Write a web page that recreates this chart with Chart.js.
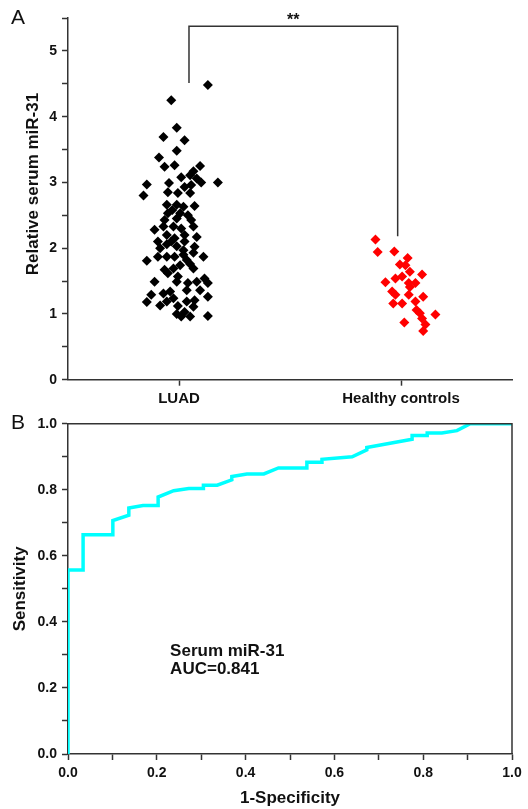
<!DOCTYPE html>
<html>
<head>
<meta charset="utf-8">
<script src="https://cdn.jsdelivr.net/npm/chart.js@4.4.1/dist/chart.umd.min.js"></script>
<style>
  body { margin: 0; background: #fff; }
  #wrapA { position: absolute; left: 0; top: 0; }
  #wrapB { position: absolute; left: 0; top: 405px; }
</style>
</head>
<body>
<div id="wrapA"><canvas id="chartA" width="528" height="410"></canvas></div>
<div id="wrapB"><canvas id="chartB" width="528" height="404"></canvas></div>
<script>
'use strict';

// ---- panel A : dot plot ----
var groups = ['LUAD', 'Healthy controls'];
var groupPos = [1, 3];
var yTitleA = 'Relative serum miR-31';

var luadX = [1.26, 0.93, 0.98, 0.86, 1.05, 0.98, 0.82, 0.87, 0.96, 1.19,
             1.13, 1.02, 1.10, 1.16, 1.35, 0.71, 0.91, 1.05, 1.11, 1.20,
             0.68, 0.90, 0.99, 1.10, 0.89, 0.98, 1.04, 1.14, 0.90, 1.01,
             1.08, 0.87, 0.98, 1.11, 0.78, 0.86, 0.95, 1.02, 1.13, 0.89,
             0.96, 1.05, 1.16, 0.81, 0.93, 1.05, 0.89, 0.98, 1.14, 0.71,
             0.81, 0.89, 0.96, 1.04, 1.13, 1.22, 1.07, 0.87, 0.95, 1.01,
             0.90, 1.13, 0.78, 0.99, 0.98, 1.08, 1.16, 1.23, 1.26, 1.07,
             0.75, 0.86, 0.92, 0.95, 0.89, 0.71, 0.83, 1.07, 1.14, 1.26,
             1.13, 0.98, 1.05, 1.02, 1.10, 1.26, 0.94, 1.04, 0.83, 1.10,
             1.19, 0.99];
var luadY = [4.48, 4.25, 3.83, 3.69, 3.64, 3.48, 3.38, 3.24, 3.26, 3.25,
             3.17, 3.08, 3.11, 3.06, 3.00, 2.97, 2.99, 2.93, 2.96, 3.00,
             2.80, 2.85, 2.84, 2.84, 2.66, 2.66, 2.63, 2.64, 2.53, 2.53,
             2.50, 2.43, 2.45, 2.43, 2.28, 2.33, 2.33, 2.30, 2.33, 2.20,
             2.15, 2.20, 2.17, 2.10, 2.10, 2.10, 2.06, 2.03, 2.02, 1.81,
             1.87, 1.87, 1.87, 1.90, 1.93, 1.87, 1.82, 1.67, 1.69, 1.74,
             1.62, 1.69, 1.49, 1.57, 1.49, 1.47, 1.49, 1.54, 1.47, 1.36,
             1.29, 1.31, 1.34, 1.24, 1.19, 1.18, 1.13, 1.19, 1.21, 1.26,
             1.11, 1.00, 1.03, 0.96, 0.96, 0.97, 2.58, 1.97, 2.00, 1.76,
             1.36, 1.12];

var ctrlX = [2.77, 2.79, 2.94, 3.06, 2.99, 3.04, 3.08, 3.19, 2.86, 2.95,
             3.01, 3.07, 3.13, 3.08, 2.92, 2.95, 3.07, 3.20, 2.93, 3.01,
             3.13, 3.14, 3.17, 3.31, 3.19, 3.03, 3.22, 3.20];
var ctrlY = [2.13, 1.94, 1.95, 1.85, 1.75, 1.74, 1.64, 1.60, 1.48, 1.54,
             1.57, 1.47, 1.47, 1.41, 1.34, 1.29, 1.29, 1.26, 1.16, 1.16,
             1.19, 1.06, 1.01, 0.99, 0.93, 0.87, 0.84, 0.74];

// significance bracket (x left/right, y left foot / top / right foot)
var bracketX = [1.09, 2.97];
var bracketY = [4.51, 5.375, 2.18];
var bracketLabel = '**';

// ---- panel B : ROC curve ----
var rocFpr = [0, 0, 0.034, 0.034, 0.101, 0.101, 0.137, 0.137, 0.169, 0.203,
              0.203, 0.238, 0.272, 0.305, 0.305, 0.336, 0.369, 0.369, 0.403, 0.441,
              0.474, 0.538, 0.538, 0.572, 0.572, 0.640, 0.673, 0.673, 0.775, 0.775,
              0.809, 0.809, 0.842, 0.876, 0.906, 1.0];
var rocTpr = [0, 0.557, 0.557, 0.664, 0.664, 0.707, 0.723, 0.745, 0.752, 0.752,
              0.778, 0.797, 0.804, 0.804, 0.814, 0.814, 0.830, 0.840, 0.848, 0.848,
              0.866, 0.866, 0.883, 0.883, 0.892, 0.900, 0.921, 0.928, 0.953, 0.964,
              0.964, 0.972, 0.972, 0.979, 1.0, 1.0];
var aucLines = ['Serum miR-31', 'AUC=0.841'];
var aucX = 0.23;
var aucY = [0.312, 0.255];

var FONT = 'Liberation Sans, Arial, Helvetica, sans-serif';
var AXIS = '#333';
Chart.defaults.font.family = FONT;
Chart.defaults.color = '#111';
Chart.defaults.animation = false;

function toPoints(xs, ys) {
  return xs.map(function (x, i) { return { x: x, y: ys[i] }; });
}

function panelLetter(letter) {
  return {
    id: 'letter' + letter,
    afterDraw: function (chart) {
      var ctx = chart.ctx;
      ctx.save();
      ctx.font = '21px ' + FONT;
      ctx.fillStyle = '#111';
      ctx.textAlign = 'center';
      ctx.textBaseline = 'middle';
      ctx.fillText(letter, 18, 18);
      ctx.restore();
    }
  };
}

var bracketPlugin = {
  id: 'bracket',
  afterDatasetsDraw: function (chart) {
    var xs = chart.scales.x, ys = chart.scales.y, ctx = chart.ctx;
    var x1 = xs.getPixelForValue(bracketX[0]), x2 = xs.getPixelForValue(bracketX[1]);
    var yTop = ys.getPixelForValue(bracketY[1]);
    ctx.save();
    ctx.strokeStyle = AXIS;
    ctx.lineWidth = 1.5;
    ctx.beginPath();
    ctx.moveTo(x1, ys.getPixelForValue(bracketY[0]));
    ctx.lineTo(x1, yTop);
    ctx.lineTo(x2, yTop);
    ctx.lineTo(x2, ys.getPixelForValue(bracketY[2]));
    ctx.stroke();
    ctx.font = 'bold 16px ' + FONT;
    ctx.fillStyle = '#111';
    ctx.textAlign = 'center';
    ctx.textBaseline = 'bottom';
    ctx.fillText(bracketLabel, (x1 + x2) / 2, yTop + 2);

    // y axis title, sits a bit above the middle of the axis as in the figure
    ctx.translate(33, 184);
    ctx.rotate(-Math.PI / 2);
    ctx.font = 'bold 17px ' + FONT;
    ctx.textAlign = 'center';
    ctx.textBaseline = 'middle';
    ctx.fillText(yTitleA, 0, 0);
    ctx.restore();
  }
};

var framePlugin = {
  id: 'frame',
  afterDraw: function (chart) {
    var a = chart.chartArea, ctx = chart.ctx;
    ctx.save();
    ctx.strokeStyle = AXIS;
    ctx.lineWidth = 1.5;
    ctx.beginPath();
    ctx.moveTo(a.left, a.top);
    ctx.lineTo(a.right, a.top);
    ctx.lineTo(a.right, a.bottom);
    ctx.stroke();
    // AUC note
    var xs = chart.scales.x, ys = chart.scales.y;
    ctx.font = 'bold 17px ' + FONT;
    ctx.fillStyle = '#111';
    ctx.textAlign = 'left';
    ctx.textBaseline = 'middle';
    aucLines.forEach(function (t, i) {
      ctx.fillText(t, xs.getPixelForValue(aucX), ys.getPixelForValue(aucY[i]));
    });
    ctx.restore();
  }
};

function axisGrid() {
  return { display: true, drawOnChartArea: false, drawTicks: true,
           tickLength: 6, tickColor: AXIS, tickWidth: 1.5 };
}
function axisBorder() {
  return { display: true, color: AXIS, width: 1.5 };
}

// panel A
new Chart(document.getElementById('chartA'), {
  type: 'scatter',
  data: {
    datasets: [{
      label: groups[0],
      data: toPoints(luadX, luadY),
      pointStyle: 'rectRot',
      pointRadius: 5,
      backgroundColor: '#000',
      borderColor: '#000',
      borderWidth: 0
    }, {
      label: groups[1],
      data: toPoints(ctrlX, ctrlY),
      pointStyle: 'rectRot',
      pointRadius: 5,
      backgroundColor: '#ff0000',
      borderColor: '#ff0000',
      borderWidth: 0
    }]
  },
  options: {
    responsive: false,
    devicePixelRatio: 1,
    layout: { padding: { left: 0, top: 18, right: 16, bottom: 0 } },
    plugins: { legend: { display: false }, tooltip: { enabled: false } },
    scales: {
      x: {
        type: 'linear', min: 0, max: 4,
        afterBuildTicks: function (s) {
          s.ticks = groupPos.map(function (v) { return { value: v }; });
        },
        afterFit: function (s) { s.height = 30.3; },
        ticks: {
          padding: 4,
          font: { size: 15, weight: 'bold' },
          callback: function (v, i) { return groups[i]; }
        },
        grid: axisGrid(),
        border: axisBorder()
      },
      y: {
        min: 0, max: 5.5,
        afterFit: function (s) { s.width = 68; },
        ticks: {
          stepSize: 0.5, padding: 5,
          font: { size: 14, weight: 'bold' },
          callback: function (v) { return v % 1 === 0 ? v : ''; }
        },
        grid: axisGrid(),
        border: axisBorder()
      }
    }
  },
  plugins: [bracketPlugin, panelLetter('A')]
});

// panel B
new Chart(document.getElementById('chartB'), {
  type: 'line',
  data: {
    datasets: [{
      label: aucLines[0],
      data: toPoints(rocFpr, rocTpr),
      borderColor: '#00ffff',
      borderWidth: 3.5,
      pointRadius: 0,
      tension: 0,
      fill: false
    }]
  },
  options: {
    responsive: false,
    devicePixelRatio: 1,
    layout: { padding: { left: 0, top: 18.7, right: 16, bottom: 0 } },
    plugins: { legend: { display: false }, tooltip: { enabled: false } },
    scales: {
      x: {
        type: 'linear', min: 0, max: 1,
        afterFit: function (s) { s.height = 55; },
        ticks: {
          stepSize: 0.1, padding: 5, maxRotation: 0, autoSkip: false,
          font: { size: 14, weight: 'bold' },
          callback: function (v) { return Math.round(v * 10) % 2 === 0 ? v.toFixed(1) : ''; }
        },
        grid: axisGrid(),
        border: axisBorder(),
        title: {
          display: true, text: '1-Specificity',
          font: { size: 17, weight: 'bold' },
          padding: { top: 0, bottom: 0 }
        }
      },
      y: {
        min: 0, max: 1,
        afterFit: function (s) { s.width = 68; },
        ticks: {
          stepSize: 0.1, padding: 5, autoSkip: false,
          font: { size: 14, weight: 'bold' },
          callback: function (v) { return Math.round(v * 10) % 2 === 0 ? v.toFixed(1) : ''; }
        },
        grid: axisGrid(),
        border: axisBorder(),
        title: {
          display: true, text: 'Sensitivity',
          font: { size: 17, weight: 'bold' },
          padding: { top: 10, bottom: 0 }
        }
      }
    }
  },
  plugins: [framePlugin, panelLetter('B')]
});
</script>
</body>
</html>
